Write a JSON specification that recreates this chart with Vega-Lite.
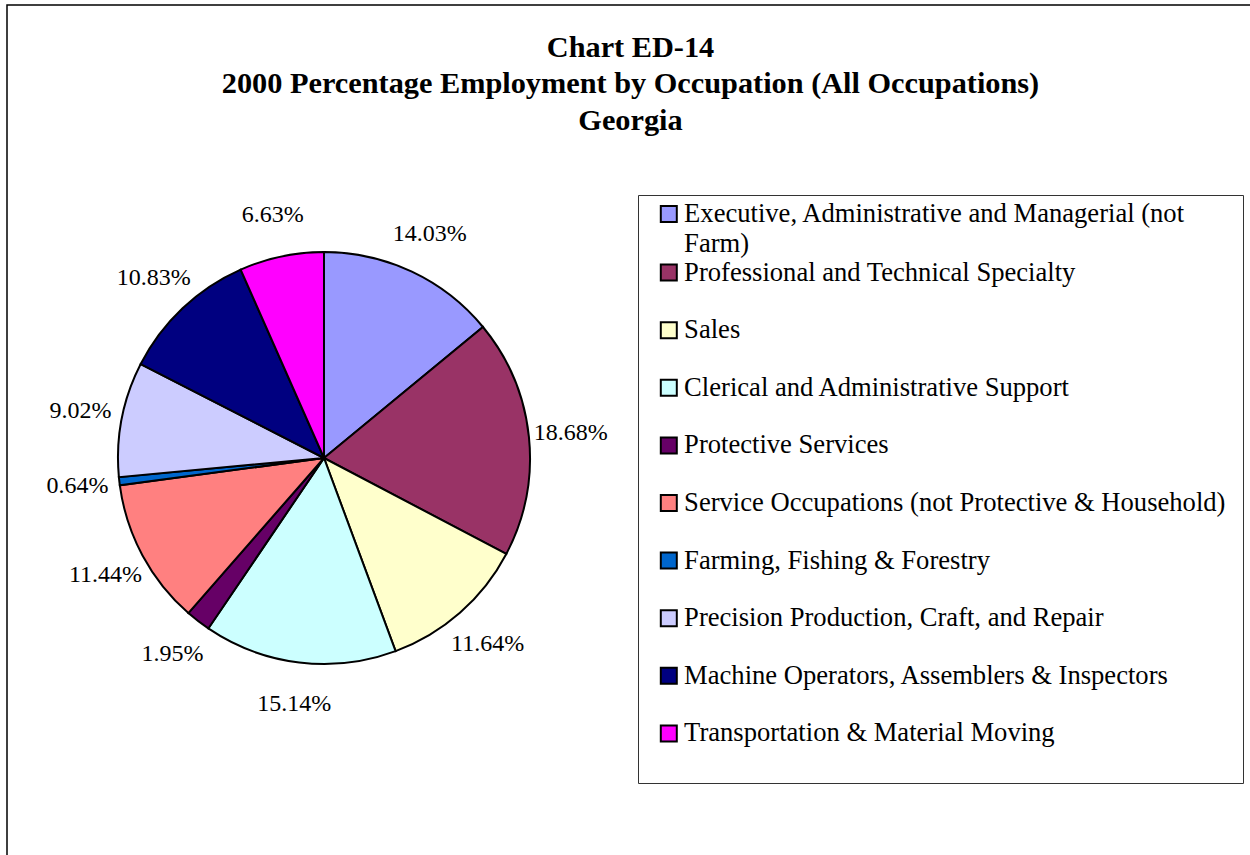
{
  "$schema": "https://vega.github.io/schema/vega-lite/v6.json",
  "autosize": "none",
  "width": 1243,
  "height": 850,
  "padding": {"left": 7, "top": 5, "right": 0, "bottom": 0},
  "background": "white",
  "view": {"stroke": "#000", "strokeWidth": 1.5, "strokeDash": [1243, 2093, 850]},
  "config": {
    "font": "Liberation Serif"
  },
  "title": {
    "text": ["Chart ED-14", "2000 Percentage Employment by Occupation (All Occupations)", "Georgia"],
    "font": "Liberation Serif",
    "fontSize": 30.3,
    "fontWeight": "bold",
    "color": "#000",
    "lineHeight": 36.5,
    "anchor": "middle",
    "frame": "group",
    "baseline": "top",
    "offset": 0,
    "dy": 131,
    "dx": 2
  },
  "data": {
    "values": [
      {"idx": 1, "occupation": "Executive, Administrative and Managerial (not Farm)", "share": 0.1403},
      {"idx": 2, "occupation": "Professional and Technical Specialty", "share": 0.1868},
      {"idx": 3, "occupation": "Sales", "share": 0.1164},
      {"idx": 4, "occupation": "Clerical and Administrative Support", "share": 0.1514},
      {"idx": 5, "occupation": "Protective Services", "share": 0.0195},
      {"idx": 6, "occupation": "Service Occupations (not Protective & Household)", "share": 0.1144},
      {"idx": 7, "occupation": "Farming, Fishing & Forestry", "share": 0.0064},
      {"idx": 8, "occupation": "Precision Production, Craft, and Repair", "share": 0.0902},
      {"idx": 9, "occupation": "Machine Operators, Assemblers & Inspectors", "share": 0.1083},
      {"idx": 10, "occupation": "Transportation & Material Moving", "share": 0.0663}
    ]
  },
  "encoding": {
    "theta": {"field": "share", "type": "quantitative", "stack": true},
    "order": {"field": "idx", "type": "quantitative"}
  },
  "layer": [
    {
      "mark": {"type": "arc", "x": 317, "y": 453, "outerRadius": 206, "stroke": "#000", "strokeWidth": 2},
      "encoding": {
        "color": {
          "field": "occupation",
          "type": "nominal",
          "scale": {
            "domain": [
              "Executive, Administrative and Managerial (not Farm)",
              "Professional and Technical Specialty",
              "Sales",
              "Clerical and Administrative Support",
              "Protective Services",
              "Service Occupations (not Protective & Household)",
              "Farming, Fishing & Forestry",
              "Precision Production, Craft, and Repair",
              "Machine Operators, Assemblers & Inspectors",
              "Transportation & Material Moving"
            ],
            "range": ["#9999FF", "#993366", "#FFFFCC", "#CCFFFF", "#660066", "#FF8080", "#0066CC", "#CCCCFF", "#000080", "#FF00FF"]
          },
          "legend": {
            "orient": "none",
            "legendX": 631,
            "legendY": 190,
            "title": " ",
            "titleOrient": "right",
            "titleFontSize": 1,
            "titlePadding": 12,
            "direction": "vertical",
            "symbolType": "square",
            "symbolSize": 256,
            "symbolStrokeColor": "#000",
            "symbolStrokeWidth": 2,
            "symbolOpacity": 1,
            "labelFont": "Liberation Serif",
            "labelFontSize": 26.6,
            "labelColor": "#000",
            "labelLimit": 800,
            "clipHeight": 57,
            "rowPadding": 0.6,
            "padding": 5.5,
            "strokeColor": "#333",
            "symbolOffset": 12,
            "labelOffset": 2,
            "labelExpr": "datum.label == 'Executive, Administrative and Managerial (not Farm)' ? ['Executive, Administrative and Managerial (not', 'Farm)'] : datum.label",
            "encode": {
              "labels": {"update": {"lineHeight": {"value": 30}, "y": {"value": 13.5}}},
              "symbols": {"update": {"y": {"value": 13.5}}}
            }
          }
        }
      }
    },
    {
      "mark": {"type": "text", "x": 317, "y": 453, "radius": 248, "fontSize": 24, "font": "Liberation Serif", "color": "#000"},
      "encoding": {
        "text": {"field": "share", "type": "quantitative", "format": ".2%"}
      }
    }
  ]
}
